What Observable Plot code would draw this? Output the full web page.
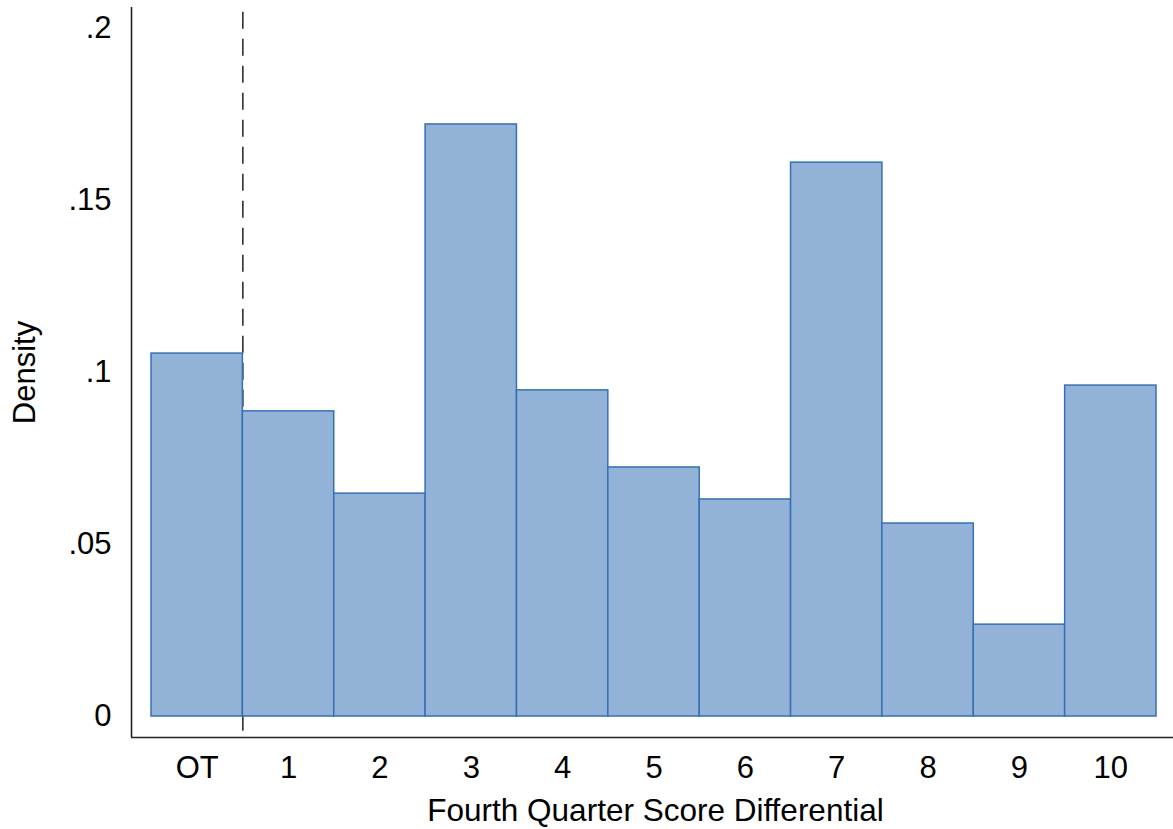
<!DOCTYPE html>
<html>
<head>
<meta charset="utf-8">
<script src="https://cdn.jsdelivr.net/npm/d3@7"></script>
<script src="https://cdn.jsdelivr.net/npm/@observablehq/plot@0.6"></script>
<style>
  html, body { margin: 0; padding: 0; background: #fff; }
</style>
</head>
<body>
<div id="chart"></div>
<script>
const categories = ["OT", "1", "2", "3", "4", "5", "6", "7", "8", "9", "10"];
const densities = [0.1055, 0.0887, 0.0648, 0.1721, 0.0948, 0.0724, 0.0631, 0.1610, 0.0561, 0.0267, 0.0962];
const yTicks = [0, 0.05, 0.1, 0.15, 0.2];
const yTickLabels = ["0", ".05", ".1", ".15", ".2"];
const xLabel = "Fourth Quarter Score Differential";
const yLabel = "Density";
const cutoff = 0.5; // boundary between OT and 1

const data = categories.map((c, i) => ({cat: c, idx: i, density: densities[i]}));

const xDomain = [-0.719, 10.686];
const yDomain = [-0.0061, 0.2061];
const FS = 31;

const chart = Plot.plot({
  width: 1173,
  height: 829,
  marginLeft: 131,
  marginRight: 0,
  marginTop: 7,
  marginBottom: 92,
  style: {fontFamily: "'Liberation Sans', Arial, Helvetica, sans-serif", fontSize: FS + "px", background: "#fff", color: "#000"},
  x: {type: "linear", domain: xDomain, axis: null},
  y: {type: "linear", domain: yDomain, axis: null},
  marks: [
    Plot.ruleX([cutoff], {y1: 0.2047, y2: yDomain[0], stroke: "#000", strokeWidth: 1.3, strokeDasharray: "17,10"}),
    Plot.rectY(data, {x1: d => d.idx - 0.5, x2: d => d.idx + 0.5, y1: 0, y2: "density", fill: "#92b3d7", stroke: "#3570b5", strokeWidth: 1.5}),
    Plot.ruleX([xDomain[0]], {stroke: "#222", strokeWidth: 1.6}),
    Plot.ruleY([yDomain[0]], {stroke: "#222", strokeWidth: 1.6}),
    Plot.axisY(yTicks, {tickSize: 0, tickPadding: 20, tickFormat: (d, i) => yTickLabels[i], label: null, fontSize: FS}),
    Plot.axisX(d3.range(categories.length), {tickSize: 0, tickPadding: 18, tickFormat: i => categories[i], label: null, fontSize: FS}),
    Plot.text([xLabel], {frameAnchor: "bottom", dy: 83, dx: 3, lineAnchor: "bottom", textAnchor: "middle", fontSize: 31.5, fill: "#000"}),
    Plot.text([yLabel], {frameAnchor: "left", dx: -106, rotate: -90, lineAnchor: "middle", textAnchor: "middle", fontSize: FS, fill: "#000"})
  ]
});
document.getElementById("chart").appendChild(chart);
</script>
</body>
</html>
